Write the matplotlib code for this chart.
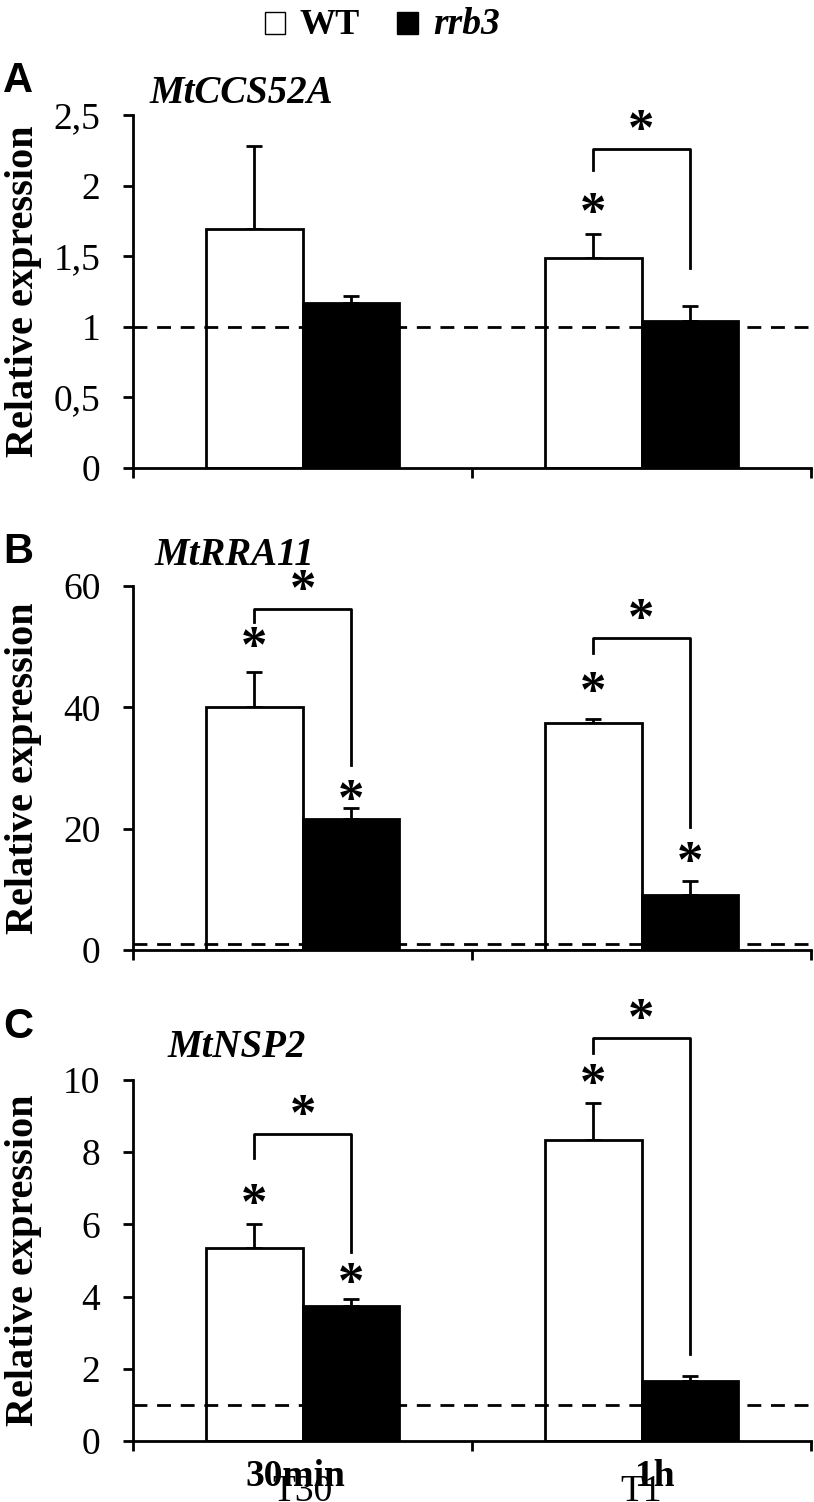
import matplotlib
matplotlib.use("Agg")
import matplotlib.pyplot as plt
import numpy as np
from matplotlib.patches import Rectangle

plt.rcParams["font.family"] = ["Liberation Serif", "DejaVu Serif"]

# --- data -------------------------------------------------------------
categories = ["30min", "1h"]
sub_labels = ["T30", "T1"]
genes = ["MtCCS52A", "MtRRA11", "MtNSP2"]
letters = ["A", "B", "C"]

ccs52a_wt = [1.69, 1.49]
ccs52a_wt_err = [0.59, 0.17]
ccs52a_rrb3 = [1.17, 1.04]
ccs52a_rrb3_err = [0.05, 0.11]

rra11_wt = [40.0, 37.4]
rra11_wt_err = [5.8, 0.6]
rra11_rrb3 = [21.6, 9.1]
rra11_rrb3_err = [1.8, 2.3]

nsp2_wt = [5.35, 8.35]
nsp2_wt_err = [0.65, 1.0]
nsp2_rrb3 = [3.75, 1.65]
nsp2_rrb3_err = [0.17, 0.16]

# significance: WT vs control, rrb3 vs control, WT vs rrb3
ccs52a_sig = ([False, True], [False, False], [False, True])
rra11_sig = ([True, True], [True, True], [True, True])
nsp2_sig = ([True, True], [True, False], [True, True])

y_ticks_A = [0, 0.5, 1, 1.5, 2, 2.5]
y_labels_A = ["0", "0,5", "1", "1,5", "2", "2,5"]
y_ticks_B = [0, 20, 40, 60]
y_ticks_C = [0, 2, 4, 6, 8, 10]

# --- layout helpers ---------------------------------------------------
W, H = 814, 1502


def fx(x):
    return x / W


def fy(y):
    return 1 - y / H


fig = plt.figure(figsize=(W / 100, H / 100), dpi=100)

# gaps (pixels) used to place asterisks and brackets above the bars
panels = [
    dict(wt=ccs52a_wt, wt_err=ccs52a_wt_err, rr=ccs52a_rrb3, rr_err=ccs52a_rrb3_err,
         sig=ccs52a_sig, ticks=y_ticks_A, labels=y_labels_A, top=115, bottom=468,
         letter_y=92, title_y=103, title_x=150,
         wt_gap=[28, 28], rr_gap=[22, 22], left_gap=[30, 36], right_gap=[27, 38], bar_gap=[18, 21]),
    dict(wt=rra11_wt, wt_err=rra11_wt_err, rr=rra11_rrb3, rr_err=rra11_rrb3_err,
         sig=rra11_sig, ticks=y_ticks_B, labels=[str(t) for t in y_ticks_B], top=586, bottom=950,
         letter_y=563, title_y=565, title_x=155,
         wt_gap=[32, 34], rr_gap=[15, 26], left_gap=[18, 32], right_gap=[28, 28], bar_gap=[13, 15]),
    dict(wt=nsp2_wt, wt_err=nsp2_wt_err, rr=nsp2_rrb3, rr_err=nsp2_rrb3_err,
         sig=nsp2_sig, ticks=y_ticks_C, labels=[str(t) for t in y_ticks_C], top=1080, bottom=1441,
         letter_y=1038, title_y=1057, title_x=168,
         wt_gap=[27, 26], rr_gap=[23, 22], left_gap=[39, 24], right_gap=[24, 22], bar_gap=[24, 15]),
]

left, right = 133, 811
x = np.arange(len(categories))
bw = 0.286
lw = 2.0
star_size = 38
star_fix = 0.17 * star_size * 100 / 72  # glyph sits above the text centre
star_kw = dict(ha="center", va="center", fontsize=star_size, fontweight="bold", clip_on=False)

for i, p in enumerate(panels):
    ax = fig.add_axes([fx(left), fy(p["bottom"]), (right - left) / W,
                       (p["bottom"] - p["top"]) / H])
    ymax = p["ticks"][-1]
    ppu = (p["bottom"] - p["top"]) / ymax  # pixels per data unit

    ax.bar(x - bw / 2, p["wt"], bw, color="white", edgecolor="black", linewidth=lw, zorder=2)
    ax.bar(x + bw / 2, p["rr"], bw, color="black", edgecolor="black", linewidth=lw, zorder=2)
    ax.errorbar(x - bw / 2, p["wt"], yerr=[[0, 0], p["wt_err"]], fmt="none",
                ecolor="black", elinewidth=lw, capsize=6, capthick=lw, zorder=1)
    ax.errorbar(x + bw / 2, p["rr"], yerr=[[0, 0], p["rr_err"]], fmt="none",
                ecolor="black", elinewidth=lw, capsize=6, capthick=lw, zorder=1)

    ax.axhline(1, color="black", linewidth=2.0, linestyle=(0, (5, 3.5)), zorder=5)

    wt_sig, rr_sig, pair_sig = p["sig"]
    for j in range(len(categories)):
        wt_top = p["wt"][j] + p["wt_err"][j]
        rr_top = p["rr"][j] + p["rr_err"][j]
        wt_star = wt_top + p["wt_gap"][j] / ppu
        rr_star = rr_top + p["rr_gap"][j] / ppu
        if wt_sig[j]:
            ax.text(x[j] - bw / 2, wt_star - star_fix / ppu, "*", **star_kw)
        if rr_sig[j]:
            ax.text(x[j] + bw / 2, rr_star - star_fix / ppu, "*", **star_kw)
        if pair_sig[j]:
            y_left = (wt_star if wt_sig[j] else wt_top) + p["left_gap"][j] / ppu
            y_right = (rr_star if rr_sig[j] else rr_top) + p["right_gap"][j] / ppu
            y_bar = y_left + p["bar_gap"][j] / ppu
            ax.plot([x[j] - bw / 2, x[j] - bw / 2, x[j] + bw / 2, x[j] + bw / 2],
                    [y_left, y_bar, y_bar, y_right], color="black", linewidth=lw,
                    clip_on=False)
            ax.text(x[j], y_bar + (26 - star_fix) / ppu, "*", **star_kw)

    ax.set_xlim(-0.5, 1.5)
    ax.set_ylim(0, ymax)
    ax.set_yticks(p["ticks"])
    ax.set_yticklabels(p["labels"], fontsize=27)
    ax.set_xticks([-0.5, 0.5, 1.5])
    ax.set_xticklabels([])
    ax.tick_params(direction="out", length=7.5, width=2.0, pad=16)
    for s in ["top", "right"]:
        ax.spines[s].set_visible(False)
    for s in ["left", "bottom"]:
        ax.spines[s].set_linewidth(2.0)

    fig.text(fx(24), fy((p["top"] + p["bottom"]) / 2), "Relative expression",
             rotation=90, ha="center", va="center", fontsize=29, fontweight="bold")
    fig.text(fx(3), fy(p["letter_y"]), letters[i], ha="left", va="baseline",
             fontsize=30, fontweight="bold", family=["Liberation Sans", "DejaVu Sans"])
    fig.text(fx(p["title_x"]), fy(p["title_y"]), genes[i], ha="left", va="baseline",
             fontsize=28, fontweight="bold", fontstyle="italic")

    if i == len(panels) - 1:
        for j, cat in enumerate(categories):
            ax.text(x[j], -0.165, sub_labels[j], transform=ax.get_xaxis_transform(),
                    ha="center", va="baseline", fontsize=27)
            off = -0.02 if j == 0 else 0.04
            ax.text(x[j] + off, -0.124, cat, transform=ax.get_xaxis_transform(),
                    ha="center", va="baseline", fontsize=27, fontweight="bold")

# legend at the top
fig.patches.append(Rectangle((fx(265), fy(34)), 20 / W, 22 / H, transform=fig.transFigure,
                             facecolor="white", edgecolor="black", linewidth=1.0))
fig.text(fx(299), fy(34), "WT", ha="left", va="baseline", fontsize=26, fontweight="bold")
fig.patches.append(Rectangle((fx(397), fy(34)), 21 / W, 22 / H, transform=fig.transFigure,
                             facecolor="black", edgecolor="black", linewidth=1.0))
fig.text(fx(433), fy(34), "rrb3", ha="left", va="baseline", fontsize=27,
         fontweight="bold", fontstyle="italic")

fig.savefig("out.png", dpi=100)
